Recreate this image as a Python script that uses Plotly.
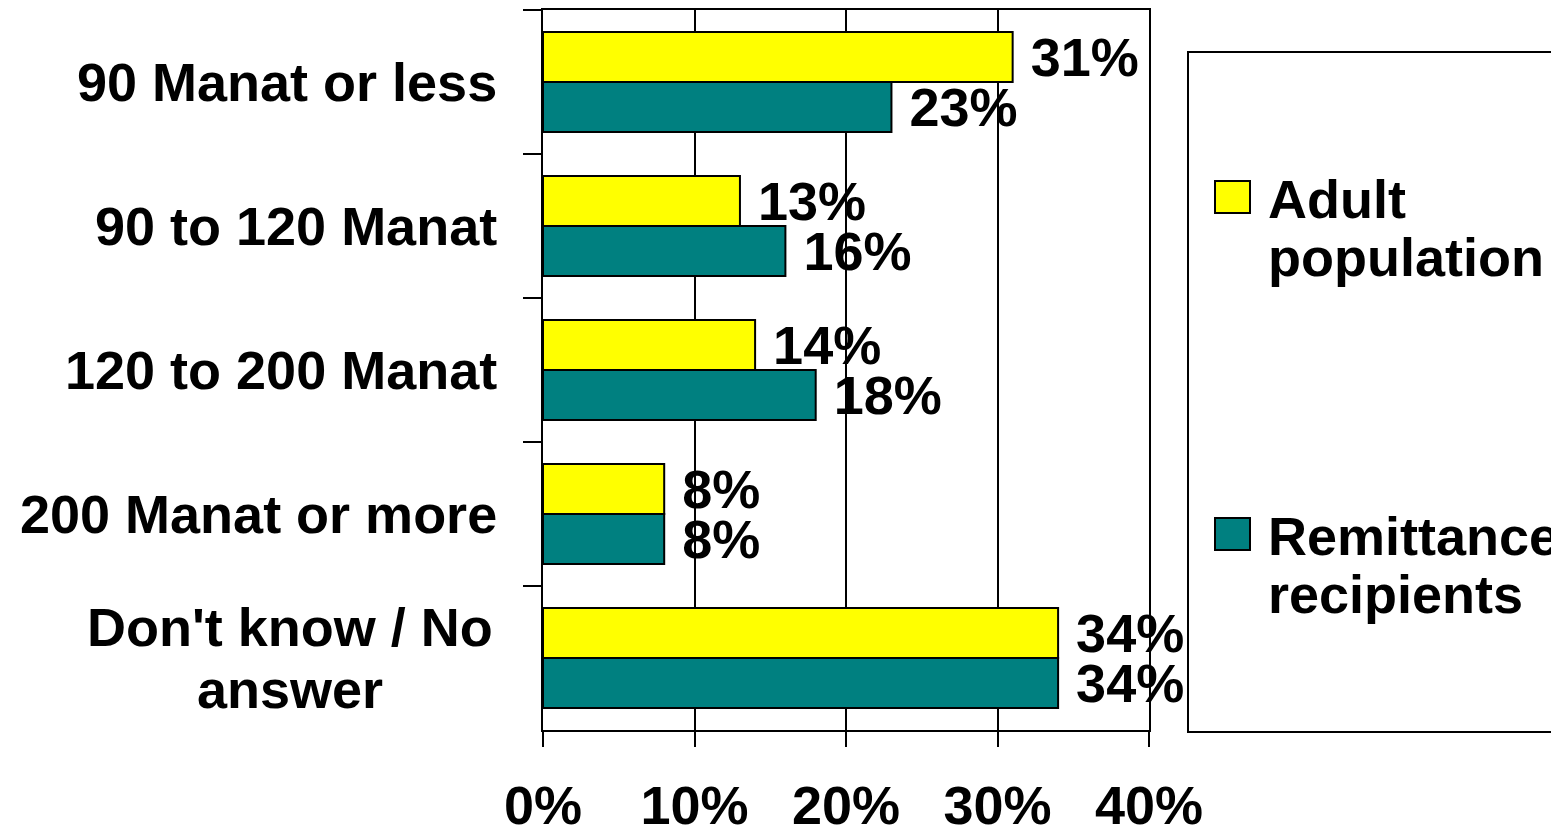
import plotly.graph_objects as go

categories = [
    "90 Manat or less",
    "90 to 120 Manat",
    "120 to 200 Manat",
    "200 Manat or more",
    "Don't know / No<br>answer",
]
adult_population = [31, 13, 14, 8, 34]
remittance_recipients = [23, 16, 18, 8, 34]
x_tick_values = [0, 10, 20, 30, 40]
x_tick_labels = ["0%", "10%", "20%", "30%", "40%"]
series_names = ["Adult<br>population", "Remittance<br>recipients"]

YELLOW = "#FFFF00"
TEAL = "#008080"
FONT = "Liberation Sans, Arial, sans-serif"

# The page body adds an 8px offset, so the figure is laid out 8px smaller.
OFF = 8
WIDTH, HEIGHT = 1559 - OFF, 828 - OFF
PLOT_L, PLOT_R, PLOT_T, PLOT_B = 543 - OFF, 1149 - OFF, 10 - OFF, 730 - OFF


def px_x(px):
    """Convert a screen pixel x position into paper coordinates."""
    return (px - OFF - PLOT_L) / (PLOT_R - PLOT_L)


def px_y(py):
    """Convert a screen pixel y position into paper coordinates."""
    return (PLOT_B - (py - OFF)) / (PLOT_B - PLOT_T)


bold = {"family": FONT, "size": 54, "color": "black", "weight": "bold"}

fig = go.Figure()
for name, values, colour in [
    (series_names[0], adult_population, YELLOW),
    (series_names[1], remittance_recipients, TEAL),
]:
    fig.add_trace(
        go.Bar(
            y=categories,
            x=values,
            name=name,
            orientation="h",
            marker={"color": colour, "line": {"color": "black", "width": 2}},
            text=[f" {v}%" for v in values],
            textposition="outside",
            textfont=bold,
            constraintext="none",
            cliponaxis=False,
            showlegend=False,
        )
    )

# Category labels drawn as annotations so wrapped lines stay centred.
line_step = 62
for cat in categories:
    lines = cat.split("<br>")
    if len(lines) == 1:
        fig.add_annotation(
            x=0, xref="paper", y=cat, yref="y", text=cat, showarrow=False,
            xanchor="right", xshift=-44, font=bold,
        )
        continue
    for i, line in enumerate(lines):
        fig.add_annotation(
            x=px_x(290), xref="paper", y=cat, yref="y", text=line, showarrow=False,
            xanchor="center", yshift=((len(lines) - 1) / 2 - i) * line_step, font=bold,
        )

# Legend box drawn by hand to match the large swatches of the original.
fig.add_shape(
    type="rect", xref="paper", yref="paper",
    x0=px_x(1188), x1=px_x(1575), y0=px_y(732), y1=px_y(52),
    line={"color": "black", "width": 2}, fillcolor="white",
)
legend_rows = [(197, YELLOW), (534, TEAL)]
for (centre_y, colour), name in zip(legend_rows, series_names):
    fig.add_shape(
        type="rect", xref="paper", yref="paper",
        x0=px_x(1215), x1=px_x(1250), y0=px_y(centre_y + 16), y1=px_y(centre_y - 16),
        line={"color": "black", "width": 2}, fillcolor=colour,
    )
    for i, line in enumerate(name.split("<br>")):
        fig.add_annotation(
            x=px_x(1266), xref="paper", y=px_y(centre_y + 2 + i * 58), yref="paper",
            text=line, showarrow=False, xanchor="left", yanchor="middle", font=bold,
        )

fig.update_layout(
    width=WIDTH,
    height=HEIGHT,
    barmode="group",
    bargap=0.305,
    bargroupgap=0,
    plot_bgcolor="white",
    paper_bgcolor="white",
    font=bold,
    margin={"l": PLOT_L, "r": WIDTH - PLOT_R, "t": PLOT_T, "b": HEIGHT - PLOT_B, "pad": 0},
)
fig.update_xaxes(
    range=[0, 40],
    tickvals=x_tick_values,
    ticktext=x_tick_labels,
    tickfont=bold,
    showgrid=True,
    gridcolor="black",
    gridwidth=2,
    zeroline=False,
    showline=True,
    mirror=True,
    linecolor="black",
    linewidth=2,
    ticks="outside",
    ticklen=15,
    tickwidth=2,
    tickcolor="black",
    ticklabelstandoff=12,
    automargin=False,
)
fig.update_yaxes(
    type="category",
    autorange="reversed",
    tickson="boundaries",
    ticks="outside",
    ticklen=18,
    tickwidth=2,
    tickcolor="black",
    showticklabels=False,
    showgrid=False,
    showline=True,
    mirror=True,
    linecolor="black",
    linewidth=2,
    automargin=False,
)

fig.write_html("out.html")
